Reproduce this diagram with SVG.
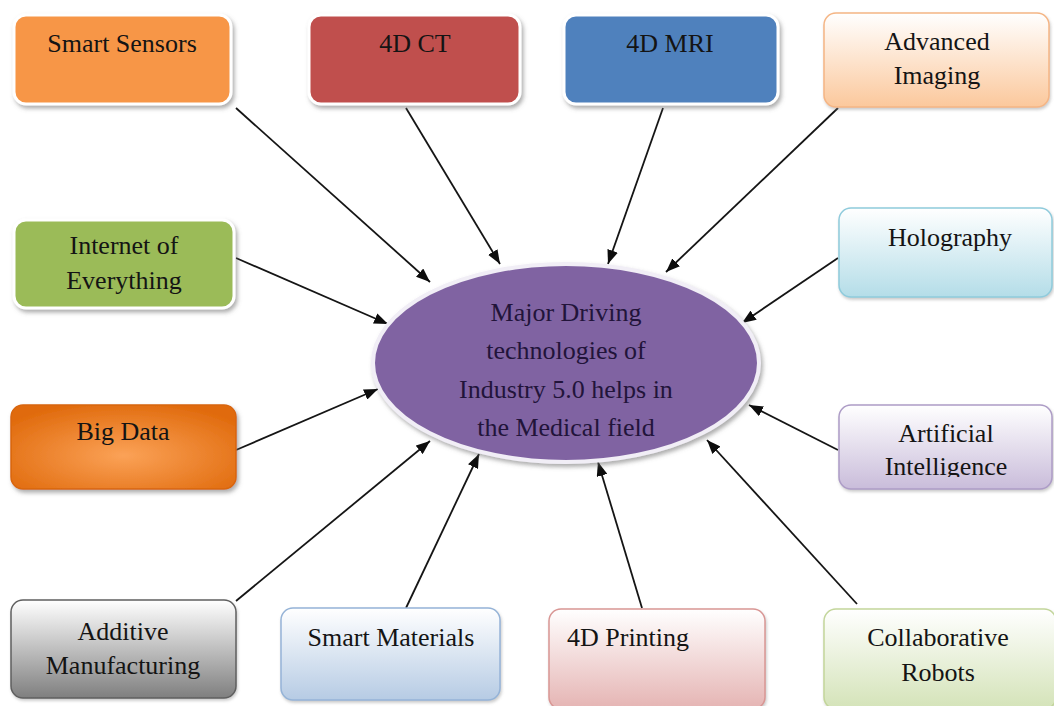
<svg xmlns="http://www.w3.org/2000/svg" width="1054" height="706" viewBox="0 0 1054 706">
<style>
  text { font-family: "Liberation Serif", "Times New Roman", serif; font-size: 26px; fill: #141414; text-anchor: middle; }
  .solid { stroke: #ffffff; stroke-width: 3; filter: url(#sh); }
  .grad { stroke-width: 1.5; filter: url(#sh2); }
  .conn line { stroke: #151515; stroke-width: 1.8; marker-end: url(#arr); }
  .etext { fill: #22143a; }
</style>
<defs>
  <filter id="sh" x="-10%" y="-10%" width="125%" height="130%">
    <feDropShadow dx="2" dy="3" stdDeviation="2" flood-color="#6b6b6b" flood-opacity="0.55"/>
  </filter>
  <filter id="sh2" x="-10%" y="-10%" width="125%" height="130%">
    <feDropShadow dx="1" dy="2" stdDeviation="1.5" flood-color="#8a8a8a" flood-opacity="0.45"/>
  </filter>
  <marker id="arr" viewBox="0 0 14 11" refX="14" refY="5.5" markerWidth="14" markerHeight="11" markerUnits="userSpaceOnUse" orient="auto">
    <path d="M0,0 L14,5.5 L0,11 z" fill="#0d0d0d"/>
  </marker>
  <linearGradient id="gPeach" x1="0" y1="0" x2="0" y2="1"><stop offset="0" stop-color="#ffffff"/><stop offset="1" stop-color="#fbc89c"/></linearGradient>
  <linearGradient id="gBlue" x1="0" y1="0" x2="0" y2="1"><stop offset="0" stop-color="#ffffff"/><stop offset="1" stop-color="#b4dde8"/></linearGradient>
  <linearGradient id="gLav" x1="0" y1="0" x2="0" y2="1"><stop offset="0" stop-color="#ffffff"/><stop offset="1" stop-color="#c9bcda"/></linearGradient>
  <linearGradient id="gGray" x1="0" y1="0" x2="0" y2="1"><stop offset="0" stop-color="#ffffff"/><stop offset="1" stop-color="#7f7f7f"/></linearGradient>
  <linearGradient id="gSteel" x1="0" y1="0" x2="0" y2="1"><stop offset="0" stop-color="#ffffff"/><stop offset="1" stop-color="#b6cbe4"/></linearGradient>
  <linearGradient id="gPink" x1="0" y1="0" x2="0" y2="1"><stop offset="0" stop-color="#ffffff"/><stop offset="1" stop-color="#e5b4b3"/></linearGradient>
  <linearGradient id="gLime" x1="0" y1="0" x2="0" y2="1"><stop offset="0" stop-color="#ffffff"/><stop offset="1" stop-color="#d4e3b8"/></linearGradient>
  <radialGradient id="gOrange" cx="0.5" cy="0.6" r="0.65"><stop offset="0" stop-color="#fba257"/><stop offset="1" stop-color="#e06a0c"/></radialGradient>
  <clipPath id="aiClip"><rect x="830" y="400" width="224" height="77"/></clipPath>
</defs>

<g id="connectors" class="conn">
  <line x1="236" y1="108" x2="430" y2="282"/>
  <line x1="406" y1="108" x2="500" y2="264"/>
  <line x1="663" y1="108" x2="608" y2="264"/>
  <line x1="838" y1="108" x2="666" y2="272"/>
  <line x1="236" y1="258" x2="388" y2="324"/>
  <line x1="838" y1="258" x2="742" y2="323"/>
  <line x1="236" y1="450" x2="378" y2="389"/>
  <line x1="838" y1="450" x2="749" y2="405"/>
  <line x1="236" y1="601" x2="430" y2="441"/>
  <line x1="406" y1="608" x2="479" y2="454"/>
  <line x1="642" y1="608" x2="598" y2="462"/>
  <line x1="857" y1="604" x2="707" y2="440"/>
</g>

<g id="center">
  <ellipse cx="566" cy="363" rx="193" ry="99" fill="#8064a2" stroke="#f1eef6" stroke-width="4" filter="url(#sh)"/>
  <text class="etext" x="566" y="321">Major Driving</text>
  <text class="etext" x="566" y="359">technologies of</text>
  <text class="etext" x="566" y="398">Industry 5.0 helps in</text>
  <text class="etext" x="566" y="436">the Medical field</text>
</g>

<g id="smart-sensors">
  <rect class="solid" x="14" y="15" width="217" height="89" rx="12" fill="#f79646"/>
  <text x="122" y="52" fill="#2a1808">Smart Sensors</text>
</g>
<g id="ct4d">
  <rect class="solid" x="309" y="15" width="211" height="89" rx="12" fill="#c0504d"/>
  <text x="415" y="52" fill="#220808">4D CT</text>
</g>
<g id="mri4d">
  <rect class="solid" x="564" y="15" width="214" height="89" rx="12" fill="#4f81bd"/>
  <text x="670" y="52" fill="#0e1a2c">4D MRI</text>
</g>
<g id="advanced-imaging">
  <rect class="grad" x="824" y="13" width="225" height="94" rx="12" fill="url(#gPeach)" stroke="#f5b584"/>
  <text x="937" y="50">Advanced</text>
  <text x="937" y="84">Imaging</text>
</g>
<g id="internet-of-everything">
  <rect class="solid" x="14" y="220" width="220" height="88" rx="12" fill="#9bbb59"/>
  <text x="124" y="254" fill="#16200a">Internet of</text>
  <text x="124" y="289" fill="#16200a">Everything</text>
</g>
<g id="big-data">
  <rect x="11" y="405" width="225" height="84" rx="12" fill="url(#gOrange)" stroke="#d8660e" stroke-width="1.5" filter="url(#sh)"/>
  <text x="123" y="440" fill="#2a1406">Big Data</text>
</g>
<g id="holography">
  <rect class="grad" x="839" y="208" width="213" height="89" rx="12" fill="url(#gBlue)" stroke="#8fcbdc"/>
  <text x="950" y="246">Holography</text>
</g>
<g id="artificial-intelligence">
  <rect class="grad" x="839" y="405" width="213" height="84" rx="12" fill="url(#gLav)" stroke="#ad9cc6"/>
  <g clip-path="url(#aiClip)">
    <text x="946" y="442">Artificial</text>
    <text x="946" y="475">Intelligence</text>
  </g>
</g>
<g id="additive-manufacturing">
  <rect class="grad" x="11" y="600" width="225" height="98" rx="12" fill="url(#gGray)" stroke="#5f5f5f"/>
  <text x="123" y="640">Additive</text>
  <text x="123" y="674">Manufacturing</text>
</g>
<g id="smart-materials">
  <rect class="grad" x="281" y="608" width="219" height="92" rx="12" fill="url(#gSteel)" stroke="#95b3d7"/>
  <text x="391" y="646">Smart Materials</text>
</g>
<g id="printing4d">
  <rect class="grad" x="549" y="609" width="216" height="100" rx="12" fill="url(#gPink)" stroke="#d99694"/>
  <text x="567" y="646" style="text-anchor:start">4D Printing</text>
</g>
<g id="collaborative-robots">
  <rect class="grad" x="824" y="609" width="232" height="100" rx="12" fill="url(#gLime)" stroke="#c3d69b"/>
  <text x="938" y="646">Collaborative</text>
  <text x="938" y="681">Robots</text>
</g>
</svg>
